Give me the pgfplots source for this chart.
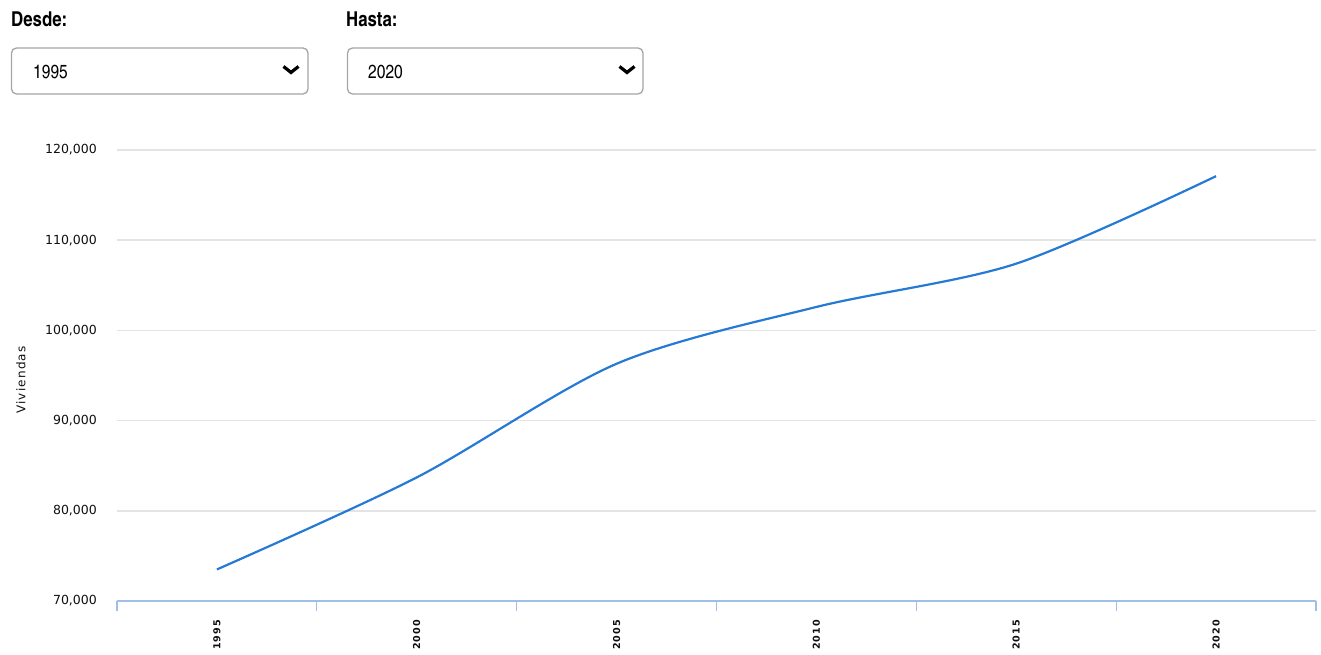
\documentclass[border=0pt]{standalone}
\usepackage{fontspec}
\usepackage{pgfplots}
\pgfplotsset{compat=1.18}
\setmainfont{DejaVu Sans}
\newfontfamily\cnfont{texgyreheroscn}[Extension=.otf, UprightFont=*-regular, BoldFont=*-bold]
\newfontfamily\spacedfont{DejaVu Sans}[LetterSpace=10]
\definecolor{linecol}{RGB}{38,122,212}
\definecolor{gridcol}{RGB}{228,228,228}
\definecolor{axiscol}{RGB}{160,190,232}
\definecolor{boxcol}{RGB}{165,165,165}
\definecolor{textcol}{RGB}{15,15,15}

\begin{document}
\begin{tikzpicture}

% year selectors
\node[anchor=base west, inner sep=0pt] at (11pt,628pt) {\cnfont\bfseries\fontsize{20.5}{20}\selectfont Desde:};
\draw[boxcol, line width=1.3pt, rounded corners=5pt] (11.5pt,607pt) rectangle (308pt,561pt);
\node[anchor=base west, inner sep=0pt] at (33pt,576pt) {\cnfont\fontsize{19}{19}\selectfont 1995};
\draw[black, line width=3.2pt, miter limit=4] (283.5pt,588.5pt) -- (291pt,582.5pt) -- (298.5pt,588.5pt);

\node[anchor=base west, inner sep=0pt] at (346pt,628pt) {\cnfont\bfseries\fontsize{20.5}{20}\selectfont Hasta:};
\draw[boxcol, line width=1.3pt, rounded corners=5pt] (347.5pt,607pt) rectangle (643pt,561pt);
\node[anchor=base west, inner sep=0pt] at (368pt,576pt) {\cnfont\fontsize{19}{19}\selectfont 2020};
\draw[black, line width=3.2pt, miter limit=4] (619.5pt,588.5pt) -- (627pt,582.5pt) -- (634.5pt,588.5pt);

\begin{axis}[
  at={(117pt,54pt)}, anchor=south west,
  scale only axis, width=1199pt, height=451pt,
  xmin=-0.5, xmax=5.5, ymin=70000, ymax=120000,
  axis lines=left,
  axis line style={-},
  x axis line style={axiscol, line width=1.5pt},
  y axis line style={draw=none},
  xtick={0,1,2,3,4,5},
  xticklabels={1995,2000,2005,2010,2015,2020},
  minor xtick={-0.5,0.5,1.5,2.5,3.5,4.5,5.5},
  tick align=outside,
  major tick length=0pt,
  minor tick length=10pt,
  major x tick style={draw=none},
  minor x tick style={axiscol, line width=1.2pt},
  ytick={70000,80000,90000,100000,110000,120000},
  yticklabels={{70,000},{80,000},{90,000},{100,000},{110,000},{120,000}},
  scaled y ticks=false,
  y tick style={draw=none},
  ymajorgrids,
  grid style={gridcol, line width=1.5pt},
  xticklabel shift=19pt,
  xticklabel style={rotate=90, anchor=east, inner sep=0pt, text=textcol,
    font=\spacedfont\bfseries\fontsize{9.6}{10}\selectfont},
  yticklabel style={anchor=east, inner sep=0pt, xshift=-20pt, text=textcol,
    font=\fontsize{12.5}{14}\selectfont},
  ylabel={Viviendas},
  every axis y label/.style={at={(axis description cs:-0.0801,0.49)}, anchor=center,
    rotate=90, inner sep=0pt, text=textcol, font=\spacedfont\fontsize{12}{12}\selectfont},
]
\addplot[linecol, line width=2.2pt, smooth, no markers] coordinates {
  (0,73500) (1,83700) (2,96300) (3,102600) (4,107400) (5,117100)
};
\end{axis}
\pgfresetboundingbox
\path[use as bounding box] (0pt,0pt) rectangle (1321pt,655pt);
\end{tikzpicture}
\end{document}
